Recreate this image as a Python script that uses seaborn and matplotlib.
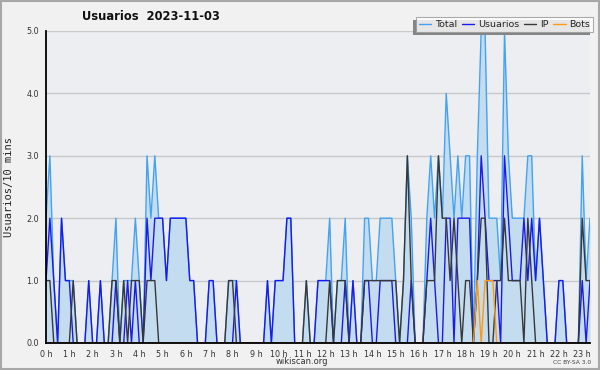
import numpy as np
import pandas as pd
import matplotlib
matplotlib.use("Agg")
import matplotlib.pyplot as plt
import seaborn as sns
from matplotlib.ticker import FixedLocator, MultipleLocator, FuncFormatter
from matplotlib.patches import Rectangle

sns.set_style("white")
plt.rcParams['font.family'] = ['DejaVu Sans']

title = "Usuarios  2023-11-03"
ylabel = "Usuarios/10 mins"
hour_labels = [f"{h} h" for h in range(24)]

total = [2,3,1,0,2,1,1,1,0,0,
         0,1,0,0,1,0,0,1,2,0,
         1,1,1,2,1,0,3,2,3,2,
         2,1,2,2,2,2,2,1,1,0,
         0,0,1,1,0,0,0,1,1,1,
         0,0,0,0,0,0,0,1,0,1,
         1,1,2,2,0,0,0,1,0,0,
         1,1,1,2,0,1,1,2,0,1,
         0,0,2,2,1,1,2,2,2,2,
         1,0,1,3,2,0,0,0,2,3,
         2,3,2,4,3,2,3,2,3,3,
         0,3,5,5,2,2,2,1,5,3,
         2,2,2,2,3,3,1,2,1,0,
         0,0,1,1,0,0,0,0,3,1,
         2]
usuarios = [1,2,1,0,2,1,1,0,0,0,
            0,1,0,0,1,0,0,0,1,0,
            0,1,0,1,0,0,2,1,2,2,
            2,1,2,2,2,2,2,1,1,0,
            0,0,1,1,0,0,0,0,0,1,
            0,0,0,0,0,0,0,1,0,1,
            1,1,2,2,0,0,0,0,0,0,
            1,1,1,1,0,0,0,1,0,1,
            0,0,1,1,0,0,1,1,1,1,
            0,0,0,0,1,0,0,0,1,2,
            1,0,0,2,2,0,2,2,2,2,
            0,1,3,2,1,1,1,0,3,2,
            1,1,1,2,1,2,1,2,1,0,
            0,0,1,1,0,0,0,0,1,0,
            1]
ip = [1,1,0,0,0,0,0,1,0,0,
      0,0,0,0,0,0,0,1,1,0,
      1,0,1,1,1,0,1,1,1,0,
      0,0,0,0,0,0,0,0,0,0,
      0,0,0,0,0,0,0,1,1,0,
      0,0,0,0,0,0,0,0,0,0,
      0,0,0,0,0,0,0,1,0,0,
      0,0,0,1,0,1,1,1,0,0,
      0,0,1,1,1,1,1,1,1,1,
      1,0,1,3,1,0,0,0,1,1,
      1,3,2,2,1,2,1,0,1,1,
      0,1,2,2,0,0,1,1,2,1,
      1,1,1,0,2,1,0,0,0,0,
      0,0,0,0,0,0,0,0,2,1,
      1]
bots = [0,0,0,0,0,0,0,0,0,0,
        0,0,0,0,0,0,0,0,0,0,
        0,0,0,0,0,0,0,0,0,0,
        0,0,0,0,0,0,0,0,0,0,
        0,0,0,0,0,0,0,0,0,0,
        0,0,0,0,0,0,0,0,0,0,
        0,0,0,0,0,0,0,0,0,0,
        0,0,0,0,0,0,0,0,0,0,
        0,0,0,0,0,0,0,0,0,0,
        0,0,0,0,0,0,0,0,0,0,
        0,0,0,0,0,0,0,0,0,0,
        0,1,0,1,1,1,0,0,0,0,
        0,0,0,0,0,0,0,0,0,0,
        0,0,0,0,0,0,0,0,0,0,
        0]

n = len(total)
df = pd.DataFrame({"step": np.arange(n), "Total": total, "Usuarios": usuarios,
                   "IP": ip, "Bots": bots})

colors = {"Total": "#44a2f0", "Usuarios": "#1a1aee", "IP": "#383838", "Bots": "#ff9a10"}

W, H = 600, 370
fig = plt.figure(figsize=(W/100, H/100), dpi=100, facecolor="#f1f1f1")
ax = fig.add_axes([46/W, 1-343/H, (590-46)/W, (343-31)/H])
ax.set_facecolor("#edeef1")

ax.fill_between(df["step"], df["Total"], 0, color="#c4dcf0", lw=0, zorder=1)
for name in ["Total", "Usuarios", "IP", "Bots"]:
    sns.lineplot(data=df, x="step", y=name, ax=ax, color=colors[name], lw=1.0,
                 label=name, legend=False, zorder=3)

ax.set_xlim(0, n-1)
ax.set_ylim(0, 5)
ax.set_xlabel("")
ax.set_ylabel("")

ax.yaxis.set_major_locator(MultipleLocator(1))
ax.yaxis.set_minor_locator(MultipleLocator(0.2))
ax.yaxis.set_major_formatter(FuncFormatter(lambda v, p: f"{v:.1f}"))
ax.xaxis.set_major_locator(FixedLocator([6*h for h in range(len(hour_labels))]))
ax.set_xticklabels(hour_labels)
ax.xaxis.set_minor_locator(MultipleLocator(1))

ax.grid(axis="y", which="major", color="#c9c9c9", lw=1.0, zorder=0)
ax.set_axisbelow(True)
for s in ["top", "right"]:
    ax.spines[s].set_visible(False)
for s in ["left", "bottom"]:
    ax.spines[s].set_color("black")
    ax.spines[s].set_linewidth(1.3)
    ax.spines[s].set_zorder(10)

ax.tick_params(axis="both", which="major", direction="out", length=4, width=1,
               color="black", labelsize=5.8, labelcolor="#333333", pad=1)
ax.tick_params(axis="both", which="minor", direction="out", length=3, width=0.9,
               color="black")

fig.text(151/W, 1-17/H, title, ha="center", va="center", fontsize=8.3,
         fontweight="bold", color="#111111")
fig.text(9/W, 1-187/H, ylabel, ha="center", va="center", rotation=90,
         fontsize=7.5, family="DejaVu Sans Mono", color="#222222")
fig.text(302/W, 1-362/H, "wikiscan.org", ha="center", va="center", fontsize=6,
         color="#333333")
fig.text(572/W, 1-363/H, "CC BY-SA 3.0", ha="center", va="center", fontsize=4.3,
         color="#444444")

handles = ax.get_lines()[:4]
leg = fig.legend(handles, ["Total", "Usuarios", "IP", "Bots"], ncol=4,
                 loc="upper right", bbox_to_anchor=(593/W, 1-17/H),
                 fontsize=6.8, frameon=True, fancybox=False, handlelength=1.3,
                 handletextpad=0.4, columnspacing=0.5, borderpad=0.3,
                 borderaxespad=0, shadow=False)
leg.get_frame().set_facecolor("white")
leg.get_frame().set_edgecolor("#999999")
leg.get_frame().set_linewidth(0.8)
leg.set_zorder(20)

# drop shadow to the lower-left of the legend box
fig.canvas.draw()
bb = leg.get_window_extent()
x0, y0 = fig.transFigure.inverted().transform((bb.x0 - 3, bb.y0 - 3))
x1, y1 = fig.transFigure.inverted().transform((bb.x1 - 3, bb.y1 - 3))
fig.patches.append(Rectangle((x0, y0), x1 - x0, y1 - y0, transform=fig.transFigure,
                             facecolor="#858585", edgecolor="none", zorder=15))

fig.patches.append(Rectangle((0.0015, 0.0025), 0.997, 0.995, transform=fig.transFigure,
                             fill=False, edgecolor="#a8a8a8", lw=1.5, zorder=10))

fig.savefig("out.png", dpi=100, facecolor=fig.get_facecolor())
